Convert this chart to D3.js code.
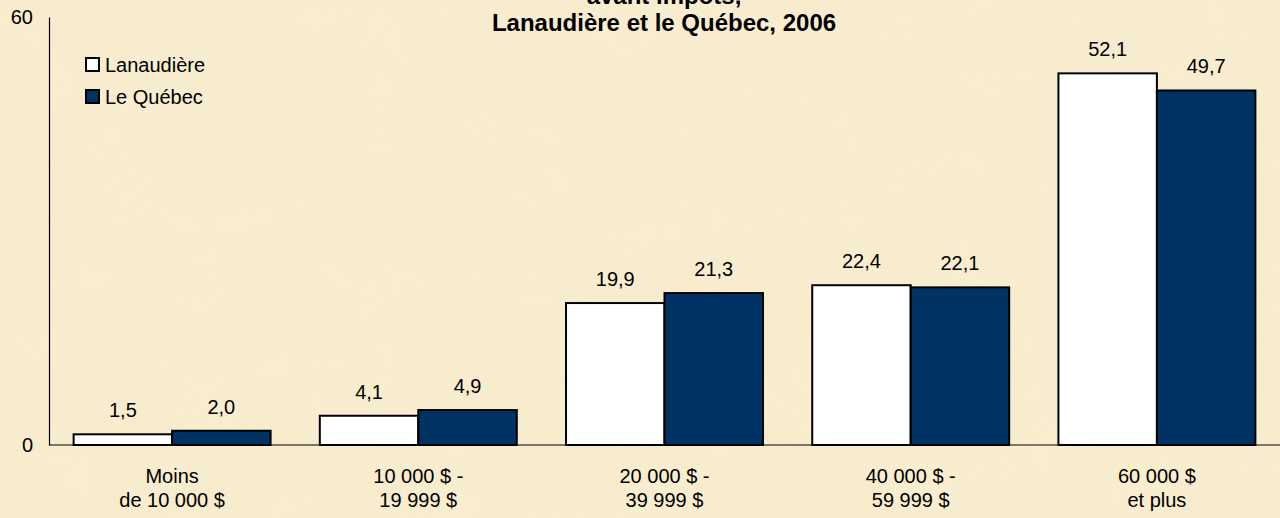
<!DOCTYPE html>
<html>
<head>
<meta charset="utf-8">
<script src="https://cdn.jsdelivr.net/npm/d3@7"></script>
<style>
    html, body { margin: 0; padding: 0; overflow: hidden; }
    body { width: 1280px; height: 518px; }
    text { font-family: Arial, "Liberation Sans", sans-serif; }
</style>
</head>
<body>
<div id="chart"></div>
<script>
var categories = [
    ['Moins', 'de 10 000 $'],
    ['10 000 $ -', '19 999 $'],
    ['20 000 $ -', '39 999 $'],
    ['40 000 $ -', '59 999 $'],
    ['60 000 $', 'et plus']
]
var seriesNames = ['Lanaudière', 'Le Québec']
var lanaudiere = [1.5, 4.1, 19.9, 22.4, 52.1]
var quebec = [2.0, 4.9, 21.3, 22.1, 49.7]
var yTicks = [0, 60]
var titleLines = ['avant  impôts,', 'Lanaudière et le Québec, 2006']

var width = 1280
var height = 518
var marginLeft = 49
var marginTop = 17
var plotBottom = 445
var colors = ['#ffffff', '#003263']

var svg = d3.select('#chart').append('svg')
    .attr('width', width)
    .attr('height', height)

// fond parchemin
var defs = svg.append('defs')
var filter = defs.append('filter').attr('id', 'paper')
    .attr('x', 0).attr('y', 0).attr('width', '100%').attr('height', '100%')
filter.append('feTurbulence')
    .attr('type', 'fractalNoise')
    .attr('baseFrequency', '0.012 0.02')
    .attr('numOctaves', 3)
    .attr('seed', 7)
filter.append('feColorMatrix')
    .attr('type', 'matrix')
    .attr('values', '0 0 0 0 0.92  0 0 0 0 0.82  0 0 0 0 0.6  0 0 0 1.1 -0.3')
svg.append('rect')
    .attr('width', width).attr('height', height)
    .attr('fill', '#f9edcf')
svg.append('rect')
    .attr('width', width).attr('height', height)
    .attr('filter', 'url(#paper)')
    .attr('opacity', 0.7)

var idx = d3.range(categories.length)
var X = d3.scaleBand().domain(idx).range([marginLeft, width])
    .paddingInner(0.2).paddingOuter(0.1)
var X1 = d3.scaleBand().domain([0, 1]).range([0, X.bandwidth()])
var Y = d3.scaleLinear().domain([0, 60]).range([plotBottom, marginTop])

// titre (la première ligne est coupée en haut comme dans l'original)
svg.append('g').selectAll('text')
    .data(titleLines)
    .enter()
    .append('text')
    .attr('x', 664)
    .attr('y', function (d, i) { return 4 + i * 27 })
    .attr('text-anchor', 'middle')
    .attr('font-size', 24)
    .attr('font-weight', 'bold')
    .text(function (d) { return d })

// axe Y
var yAxis = svg.append('g')
    .attr('transform', 'translate(' + marginLeft + ',0)')
    .call(d3.axisLeft(Y).tickValues(yTicks).tickSize(0).tickPadding(16))
yAxis.select('.domain').attr('stroke', '#000').attr('stroke-width', 1.2)
yAxis.selectAll('text')
    .attr('font-size', 20)
    .attr('fill', '#000')
    .attr('font-family', 'Arial, "Liberation Sans", sans-serif')
    .attr('dy', '0.34em')

// barres
var groups = svg.append('g').selectAll('g')
    .data(idx)
    .enter()
    .append('g')
    .attr('transform', function (d) { return 'translate(' + X(d) + ',0)' })

var barData = function (i) {
    return [
        { s: 0, v: lanaudiere[i] },
        { s: 1, v: quebec[i] }
    ]
}

groups.selectAll('rect')
    .data(barData)
    .enter()
    .append('rect')
    .attr('x', function (d) { return X1(d.s) })
    .attr('y', function (d) { return Y(d.v) })
    .attr('width', X1.bandwidth())
    .attr('height', function (d) { return Y(0) - Y(d.v) })
    .attr('fill', function (d) { return colors[d.s] })
    .attr('stroke', '#000')
    .attr('stroke-width', 2)

groups.selectAll('text.val')
    .data(barData)
    .enter()
    .append('text')
    .attr('class', 'val')
    .attr('x', function (d) { return X1(d.s) + X1.bandwidth() / 2 })
    .attr('y', function (d) { return Y(d.v) - 17 })
    .attr('text-anchor', 'middle')
    .attr('font-size', 20)
    .text(function (d) { return d3.format('.1f')(d.v).replace('.', ',') })

// axe X
svg.append('line')
    .attr('x1', marginLeft).attr('x2', width)
    .attr('y1', Y(0)).attr('y2', Y(0))
    .attr('stroke', '#000').attr('stroke-width', 1.2)

groups.selectAll('text.cat')
    .data(function (d) { return categories[d] })
    .enter()
    .append('text')
    .attr('class', 'cat')
    .attr('x', X.bandwidth() / 2)
    .attr('y', function (d, i) { return 483 + i * 24 })
    .attr('text-anchor', 'middle')
    .attr('font-size', 20)
    .text(function (d) { return d })

// légende
var legend = svg.append('g').selectAll('g')
    .data(seriesNames)
    .enter()
    .append('g')
    .attr('transform', function (d, i) { return 'translate(86,' + (58 + i * 32) + ')' })
legend.append('rect')
    .attr('width', 13).attr('height', 13)
    .attr('fill', function (d, i) { return colors[i] })
    .attr('stroke', '#000').attr('stroke-width', 2)
legend.append('text')
    .attr('x', 19).attr('y', 14)
    .attr('font-size', 20)
    .text(function (d) { return d })
</script>
</body>
</html>
